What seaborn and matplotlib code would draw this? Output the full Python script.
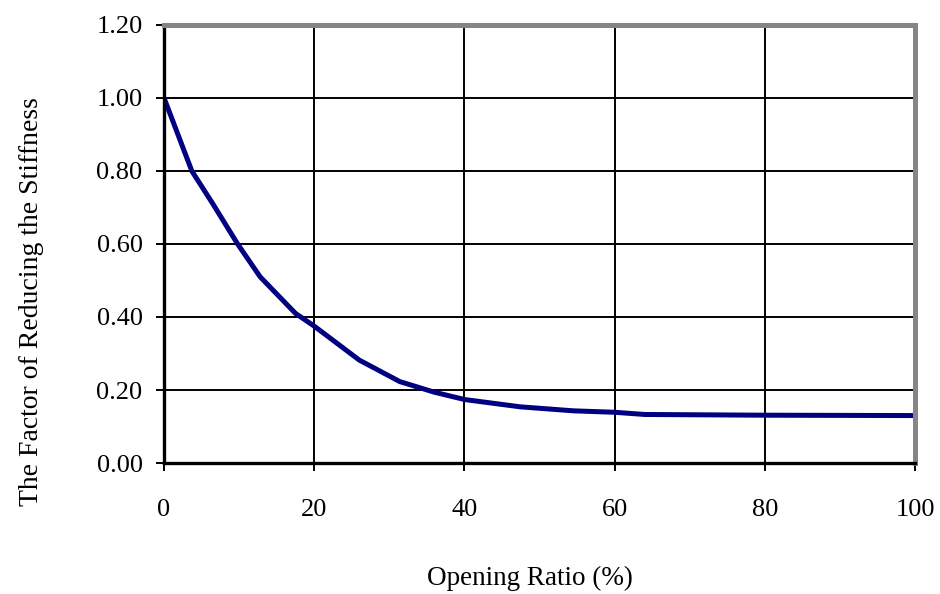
import matplotlib
matplotlib.use("Agg")
import matplotlib.pyplot as plt
import seaborn as sns
import pandas as pd
from matplotlib.ticker import FormatStrFormatter

# Stiffness reduction factor versus opening ratio
opening_ratio = [0, 3.7, 6.5, 9.8, 12.8, 17.5, 20, 26, 31.4, 36, 40, 47.4,
                 54.5, 60, 64, 80, 100]
reduction_factor = [1.00, 0.80, 0.71, 0.60, 0.51, 0.41, 0.375, 0.282, 0.223,
                    0.194, 0.174, 0.154, 0.143, 0.139, 0.133, 0.131, 0.130]

x_ticks = [0, 20, 40, 60, 80, 100]
y_ticks = [0.00, 0.20, 0.40, 0.60, 0.80, 1.00, 1.20]

df = pd.DataFrame({"Opening Ratio (%)": opening_ratio,
                   "Factor": reduction_factor})

sns.set_theme(style="white")
plt.rcParams["font.family"] = ["Liberation Serif", "DejaVu Serif"]

fig = plt.figure(figsize=(9.4, 5.94), dpi=100)
ax = fig.add_axes([0.1745, 0.2205, 0.9734 - 0.1745, 0.958 - 0.2205])

sns.lineplot(data=df, x="Opening Ratio (%)", y="Factor", ax=ax,
             color="#000080", linewidth=3.6, zorder=5)

ax.set_xlim(0, 100)
ax.set_ylim(0, 1.2)
ax.set_xticks(x_ticks)
ax.set_yticks(y_ticks)
ax.yaxis.set_major_formatter(FormatStrFormatter("%.2f"))

ax.grid(True, color="black", linewidth=1.4)
ax.set_axisbelow(False)

for side in ("left", "bottom"):
    ax.spines[side].set_color("black")
    ax.spines[side].set_linewidth(2.4)
for side in ("top", "right"):
    ax.spines[side].set_color("#858585")
    ax.spines[side].set_linewidth(3.6)
for s in ax.spines.values():
    s.set_zorder(6)

ax.tick_params(axis="both", which="major", direction="out", length=6,
               width=1.4, color="black", labelsize=19, labelcolor="black",
               bottom=True, left=True)
ax.tick_params(axis="x", pad=20)
ax.tick_params(axis="y", pad=9.5)

ax.set_xlabel("Opening Ratio (%)", fontsize=19.5, color="black")
ax.set_ylabel("The Factor of Reducing the Stiffness", fontsize=20,
              color="black")
ax.xaxis.set_label_coords(0.487, -0.235)
ax.yaxis.set_label_coords(-0.16, 0.368)

fig.savefig("out.png", dpi=100, facecolor="white")
